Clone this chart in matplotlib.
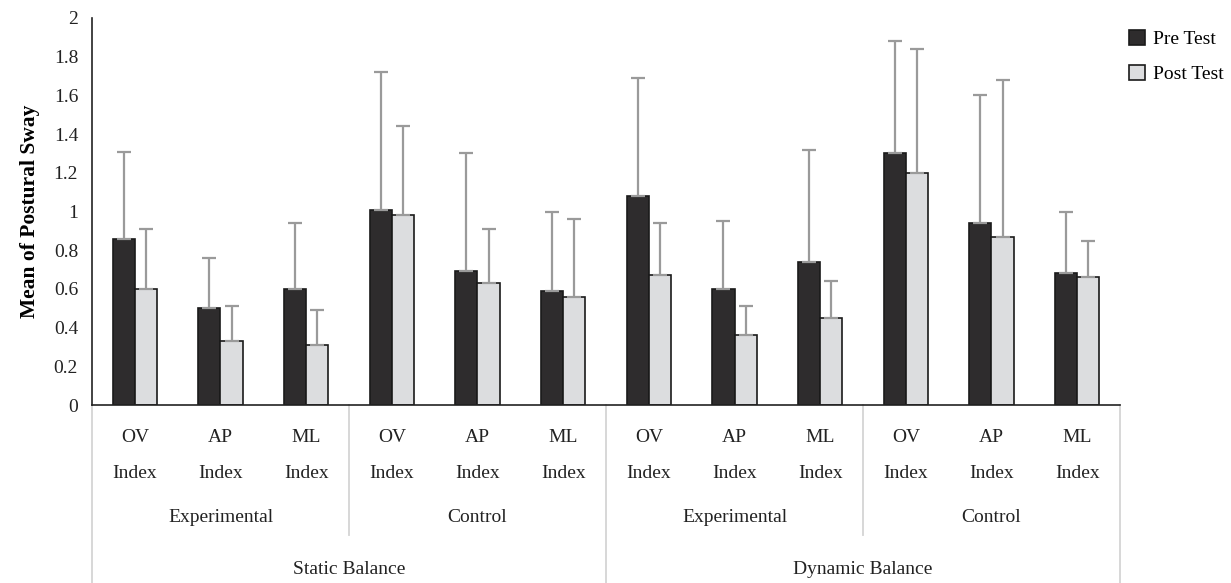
import matplotlib.pyplot as plt
import numpy as np

plt.rcParams['font.family'] = ['Liberation Serif', 'DejaVu Serif']

balance = ["Static Balance", "Dynamic Balance"]
groups = ["Experimental", "Control", "Experimental", "Control"]
indices = ["OV", "AP", "ML"] * 4

pre_mean = [0.86, 0.50, 0.60, 1.01, 0.69, 0.59, 1.08, 0.60, 0.74, 1.30, 0.94, 0.68]
pre_top = [1.31, 0.76, 0.94, 1.72, 1.30, 1.00, 1.69, 0.95, 1.32, 1.88, 1.60, 1.00]
post_mean = [0.60, 0.33, 0.31, 0.98, 0.63, 0.56, 0.67, 0.36, 0.45, 1.20, 0.87, 0.66]
post_top = [0.91, 0.51, 0.49, 1.44, 0.91, 0.96, 0.94, 0.51, 0.64, 1.84, 1.68, 0.85]

pre_err = np.array(pre_top) - np.array(pre_mean)
post_err = np.array(post_top) - np.array(post_mean)

fig = plt.figure(figsize=(12.31, 5.83), dpi=100)
ax = fig.add_axes([92 / 1231, 1 - 405 / 583, (1120 - 92) / 1231, 387 / 583])

x = np.arange(len(indices))
w = 0.26
ekw = dict(ecolor='#9a9a9a', elinewidth=1.6, capsize=5, capthick=1.6)
ax.bar(x - w / 2, pre_mean, w, color='#2e2c2d', edgecolor='#1a1a1a', linewidth=1.2,
       yerr=[np.zeros(12), pre_err], error_kw=ekw, label='Pre Test', zorder=2)
ax.bar(x + w / 2, post_mean, w, color='#dcdddf', edgecolor='#1a1a1a', linewidth=1.2,
       yerr=[np.zeros(12), post_err], error_kw=ekw, label='Post Test', zorder=2)

fs = 14
ax.set_xlim(-0.5, 11.5)
ax.set_ylim(0, 2)
ticks = np.round(np.arange(0, 2.01, 0.2), 1)
ax.set_yticks(ticks)
ax.set_yticklabels(['%g' % t for t in ticks], fontsize=fs, color='#222222')
ax.tick_params(axis='y', length=0, pad=10)
ax.set_xticks([])
for s in ['top', 'right']:
    ax.spines[s].set_visible(False)
ax.spines['left'].set_color('#222222')
ax.spines['bottom'].set_color('#222222')
ax.spines['left'].set_linewidth(1.2)
ax.spines['bottom'].set_linewidth(1.2)

ax.set_ylabel('Mean of Postural Sway', fontsize=15.5, fontweight='bold', labelpad=10)

tr = ax.get_xaxis_transform()
h = 387.0
def ay(py):
    return (405 - py) / h

for i, lab in enumerate(indices):
    ax.text(i, ay(438), lab, transform=tr, ha='center', va='center', fontsize=fs, color='#222222')
    ax.text(i, ay(473), 'Index', transform=tr, ha='center', va='center', fontsize=fs, color='#222222')
for g, lab in enumerate(groups):
    ax.text(g * 3 + 1, ay(518), lab, transform=tr, ha='center', va='center', fontsize=fs, color='#222222')
for b, lab in enumerate(balance):
    ax.text(b * 6 + 2.5, ay(570), lab, transform=tr, ha='center', va='center', fontsize=fs, color='#222222')

sep = dict(color='#d4d4d4', linewidth=1.3, clip_on=False, transform=tr)
for xs in [-0.5, 5.5, 11.5]:
    ax.plot([xs, xs], [0, ay(583)], **sep)
for xs in [2.5, 8.5]:
    ax.plot([xs, xs], [0, ay(535)], **sep)

ax.legend(loc='upper left', bbox_to_anchor=(0.997, 1.0), frameon=False, fontsize=fs,
          handlelength=0.85, handleheight=0.85, labelspacing=0.85, handletextpad=0.4,
          borderaxespad=0.2)

fig.savefig('out.png', dpi=100)
